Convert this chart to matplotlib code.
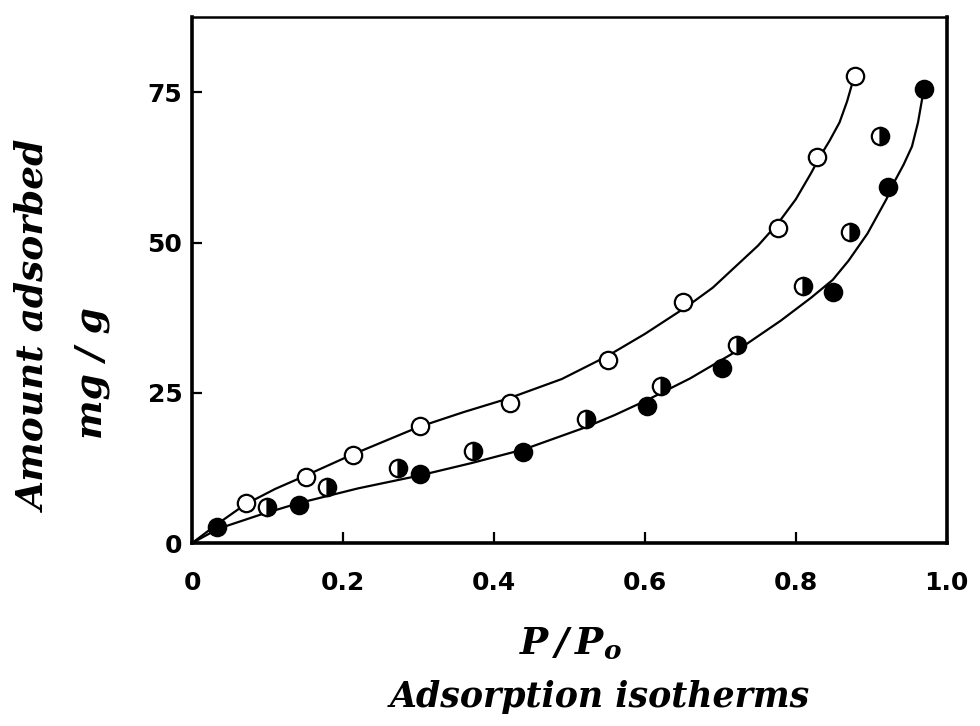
import matplotlib

matplotlib.use('Agg')
import matplotlib.pyplot as plt

plt.rcParams['mathtext.fontset'] = 'custom'
plt.rcParams['mathtext.it'] = 'DejaVu Serif:italic:bold'
plt.rcParams['mathtext.rm'] = 'DejaVu Serif:italic:bold'

# open circles
open_x = [0.072, 0.151, 0.213, 0.302, 0.421, 0.551, 0.650, 0.777, 0.828, 0.879]
open_y = [6.7, 11.0, 14.7, 19.5, 23.3, 30.5, 40.2, 52.5, 64.2, 77.8]

# half filled circles
half_x = [0.099, 0.179, 0.273, 0.372, 0.522, 0.621, 0.722, 0.809, 0.872, 0.911]
half_y = [6.0, 9.3, 12.5, 15.3, 20.7, 26.2, 33.0, 42.8, 51.8, 67.8]

# filled circles
full_x = [0.033, 0.142, 0.302, 0.438, 0.603, 0.702, 0.850, 0.922, 0.970]
full_y = [2.7, 6.3, 11.5, 15.2, 22.8, 29.2, 41.7, 59.3, 75.6]

# hand-drawn curves
upper_x = [0.0, 0.035, 0.07, 0.11, 0.15, 0.21, 0.30, 0.36, 0.42, 0.49, 0.55, 0.60, 0.655,
           0.69, 0.72, 0.75, 0.777, 0.80, 0.82, 0.832, 0.845, 0.858, 0.868, 0.876]
upper_y = [0.0, 3.3, 6.4, 9.0, 11.2, 14.6, 19.3, 21.8, 24.1, 27.3, 31.1, 34.8, 39.3,
           42.5, 46.0, 49.5, 53.3, 57.2, 61.5, 64.3, 67.0, 70.0, 73.5, 77.0]

lower_x = [0.0, 0.035, 0.09, 0.14, 0.22, 0.30, 0.37, 0.44, 0.52, 0.56, 0.603, 0.66, 0.717,
           0.78, 0.82, 0.849, 0.87, 0.895, 0.92, 0.931, 0.943, 0.954, 0.962, 0.968]
lower_y = [0.0, 2.4, 4.7, 6.6, 9.1, 11.2, 13.3, 15.6, 19.2, 21.3, 23.8, 27.4, 31.6,
           37.0, 40.8, 43.8, 47.0, 51.5, 57.2, 60.2, 63.0, 66.0, 70.0, 74.3]

fig = plt.figure(figsize=(9.8, 7.26), dpi=100)
ax = fig.add_axes([0.196, 0.252, 0.77, 0.725])

ax.plot(upper_x, upper_y, color='black', lw=1.6, solid_capstyle='round', solid_joinstyle='round')
ax.plot(lower_x, lower_y, color='black', lw=1.6, solid_capstyle='round', solid_joinstyle='round')

ms = 12.5
mew = 1.6
ax.plot(open_x, open_y, 'o', ms=ms, mfc='white', mec='black', mew=mew, ls='none')
ax.plot(half_x, half_y, 'o', ms=ms, mfc='black', mfcalt='white', fillstyle='right',
        mec='black', mew=mew, ls='none')
ax.plot(full_x, full_y, 'o', ms=ms, mfc='black', mec='black', mew=mew, ls='none')

ax.set_xlim(0, 1.0)
ax.set_ylim(0, 87.6)
ax.set_xticks([0, 0.2, 0.4, 0.6, 0.8, 1.0])
ax.set_xticklabels(['0', '0.2', '0.4', '0.6', '0.8', '1.0'])
ax.set_yticks([0, 25, 50, 75])
ax.set_yticklabels(['0', '25', '50', '75'])

ax.tick_params(axis='x', direction='in', length=8, width=1.6, pad=20, labelsize=18)
ax.tick_params(axis='y', direction='in', length=7, width=1.6, pad=7, labelsize=18)
for lbl in ax.get_xticklabels() + ax.get_yticklabels():
    lbl.set_fontfamily('DejaVu Sans')
    lbl.set_fontweight('bold')

ax.spines['left'].set_linewidth(2.6)
ax.spines['bottom'].set_linewidth(2.6)
ax.spines['right'].set_linewidth(2.6)
ax.spines['top'].set_linewidth(1.8)

script = dict(family='DejaVu Serif', style='italic', weight='bold')
fig.text(0.036, 0.55, 'Amount adsorbed', rotation=90, ha='center', va='center',
         fontsize=27, **script)
fig.text(0.093, 0.486, 'mg / g', rotation=90, ha='center', va='center',
         fontsize=27, **script)
fig.text(0.582, 0.112, r'$P\,/\,P_{o}$', ha='center', va='center', fontsize=27)
fig.text(0.612, 0.04, 'Adsorption isotherms', ha='center', va='center',
         fontsize=25, **script)

fig.savefig('out.png', dpi=100)
plt.close(fig)
